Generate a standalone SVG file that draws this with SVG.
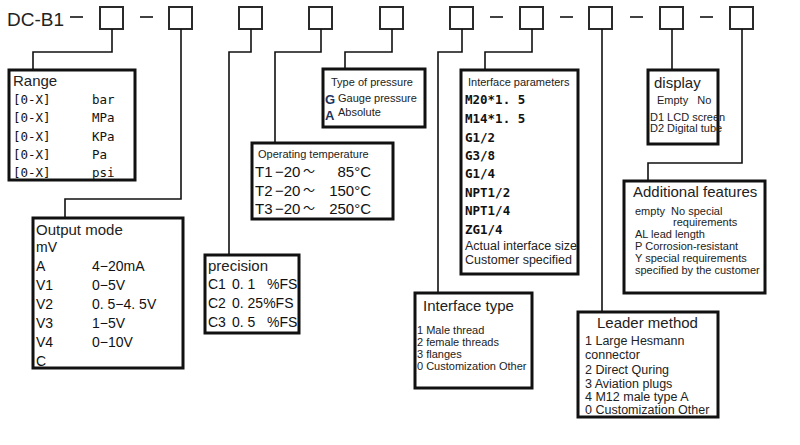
<svg xmlns="http://www.w3.org/2000/svg" width="800" height="445" viewBox="0 0 800 445">
<style>
text{white-space:pre}
.hb{fill:#fff;stroke:#2a2a2a;stroke-width:2}
.box{fill:#fff;stroke:#111;stroke-width:3}
.con{fill:none;stroke:#111;stroke-width:1.6}
.dash{stroke:#111;stroke-width:1.6}
.h{font-family:"Liberation Sans",Arial,sans-serif;font-size:15px;fill:#222}
.s{font-family:"Liberation Sans",Arial,sans-serif;font-size:11px;fill:#222}
.m{font-family:"Liberation Sans",Arial,sans-serif;font-size:12.5px;fill:#222}
.mono{font-family:"DejaVu Sans Mono","Liberation Mono",monospace;font-size:12.5px;fill:#111}
.b{font-family:"Liberation Sans",Arial,sans-serif;font-size:14px;fill:#111}
.t{font-family:"Liberation Sans",Arial,sans-serif;font-size:15px;fill:#111}
.w{font-family:"Noto Sans CJK SC",sans-serif;font-size:12px;fill:#111}
</style>
<rect width="800" height="445" fill="#fff"/>
<g id="header">
<text x="7" y="26" font-family="Liberation Sans,Arial,sans-serif" font-size="19" fill="#222">DC-B1</text>
<line class="dash" x1="70" y1="17" x2="83" y2="17"/>
<line class="dash" x1="140" y1="17" x2="153" y2="17"/>
<line class="dash" x1="490" y1="17" x2="503" y2="17"/>
<line class="dash" x1="560" y1="17" x2="573" y2="17"/>
<line class="dash" x1="630" y1="17" x2="643" y2="17"/>
<line class="dash" x1="700" y1="17" x2="713" y2="17"/>
<rect class="hb" x="100" y="7" width="23" height="22"/>
<rect class="hb" x="169" y="7" width="23" height="22"/>
<rect class="hb" x="239" y="7" width="23" height="22"/>
<rect class="hb" x="309" y="7" width="23" height="22"/>
<rect class="hb" x="380" y="7" width="23" height="22"/>
<rect class="hb" x="450" y="7" width="23" height="22"/>
<rect class="hb" x="520" y="7" width="23" height="22"/>
<rect class="hb" x="589" y="7" width="23" height="22"/>
<rect class="hb" x="660" y="7" width="23" height="22"/>
<rect class="hb" x="730" y="7" width="23" height="22"/>
</g>
<g id="connectors">
<path class="con" d="M112,29 V52 H33 V70"/>
<path class="con" d="M181,29 V199 H65 V218"/>
<path class="con" d="M251,29 V52 H229 V255"/>
<path class="con" d="M321,29 V52 H275 V143"/>
<path class="con" d="M392,29 V52 H345 V69"/>
<path class="con" d="M462,29 V52 H438 V293"/>
<path class="con" d="M532,29 V52 H485 V70"/>
<path class="con" d="M602,29 V312"/>
<path class="con" d="M672,29 V70"/>
<path class="con" d="M742,29 V163 H648 V181"/>
</g>
<g id="range">
<rect class="box" x="9" y="70" width="126" height="110"/>
<text class="h" x="13" y="86">Range</text>
<text class="mono" font-size="13" x="13" y="104">[0-X]</text><text class="mono" font-size="13" x="92" y="104">bar</text>
<text class="mono" font-size="13" x="13" y="122">[0-X]</text><text class="mono" font-size="13" x="92" y="122">MPa</text>
<text class="mono" font-size="13" x="13" y="141">[0-X]</text><text class="mono" font-size="13" x="92" y="141">KPa</text>
<text class="mono" font-size="13" x="13" y="159">[0-X]</text><text class="mono" font-size="13" x="92" y="159">Pa</text>
<text class="mono" font-size="13" x="13" y="177">[0-X]</text><text class="mono" font-size="13" x="92" y="177">psi</text>
</g>
<g id="output">
<rect class="box" x="33" y="218" width="150" height="150"/>
<text class="h" x="36" y="235">Output mode</text>
<text class="b" x="36" y="252" font-size="13">mV</text>
<text class="b" x="36" y="271">A</text><text class="b" x="92" y="271">4−20mA</text>
<text class="b" x="36" y="290">V1</text><text class="b" x="92" y="290">0−5V</text>
<text class="b" x="36" y="309">V2</text><text class="b" x="92" y="309">0. 5−4. 5V</text>
<text class="b" x="36" y="328">V3</text><text class="b" x="92" y="328">1−5V</text>
<text class="b" x="36" y="347">V4</text><text class="b" x="92" y="347">0−10V</text>
<text class="b" x="36" y="366">C</text>
</g>
<g id="precision">
<rect class="box" x="205" y="255" width="94" height="78"/>
<text class="h" x="208" y="271">precision</text>
<text class="b" x="208" y="289">C1</text><text class="b" x="232" y="289">0. 1   %FS</text>
<text class="b" x="208" y="308">C2</text><text class="b" x="232" y="308">0. 25%FS</text>
<text class="b" x="208" y="327">C3</text><text class="b" x="232" y="327">0. 5   %FS</text>
</g>
<g id="temperature">
<rect class="box" x="252" y="143" width="141" height="76"/>
<text class="s" x="258" y="158">Operating temperature</text>
<text class="t" x="255" y="177">T1</text><text class="t" x="275" y="177">−20</text><text class="w" x="303" y="176">～</text><text class="t" x="371" y="177" text-anchor="end">85°C</text>
<text class="t" x="255" y="196">T2</text><text class="t" x="275" y="196">−20</text><text class="w" x="303" y="195">～</text><text class="t" x="371" y="196" text-anchor="end">150°C</text>
<text class="t" x="255" y="214">T3</text><text class="t" x="275" y="214">−20</text><text class="w" x="303" y="213">～</text><text class="t" x="371" y="214" text-anchor="end">250°C</text>
</g>
<g id="pressure">
<rect class="box" x="323" y="69" width="102" height="58"/>
<text class="s" x="331" y="86">Type of pressure</text>
<text x="325" y="104" font-family="Liberation Sans,Arial,sans-serif" font-size="13" font-weight="bold" fill="#1b3560">G</text>
<text class="s" x="338" y="102">Gauge pressure</text>
<text x="325" y="120" font-family="Liberation Sans,Arial,sans-serif" font-size="13" font-weight="bold" fill="#1b3560">A</text>
<text class="s" x="338" y="116">Absolute</text>
</g>
<g id="interface-parameters">
<rect class="box" x="461" y="70" width="117" height="204"/>
<text class="s" x="468" y="86">Interface parameters</text>
<text class="mono" font-weight="bold" x="465" y="104">M20*1. 5</text>
<text class="mono" font-weight="bold" x="465" y="123">M14*1. 5</text>
<text class="mono" font-weight="bold" x="465" y="142">G1/2</text>
<text class="mono" font-weight="bold" x="465" y="160">G3/8</text>
<text class="mono" font-weight="bold" x="465" y="178">G1/4</text>
<text class="mono" font-weight="bold" x="465" y="197">NPT1/2</text>
<text class="mono" font-weight="bold" x="465" y="215">NPT1/4</text>
<text class="mono" font-weight="bold" x="465" y="234">ZG1/4</text>
<text class="m" font-size="12" x="465" y="250">Actual interface size</text>
<text class="m" font-size="12" x="465" y="264">Customer specified</text>
</g>
<g id="interface-type">
<rect class="box" x="415" y="293" width="117" height="95"/>
<text class="h" x="423" y="311">Interface type</text>
<text class="s" x="417" y="334">1 Male thread</text>
<text class="s" x="417" y="346">2 female threads</text>
<text class="s" x="417" y="358">3 flanges</text>
<text class="s" x="417" y="370">0 Customization Other</text>
</g>
<g id="leader">
<rect class="box" x="578" y="312" width="140" height="105"/>
<text class="h" x="597" y="328">Leader method</text>
<text class="m" x="585" y="345">1 Large Hesmann</text>
<text class="m" x="585" y="359">connector</text>
<text class="m" x="585" y="374">2 Direct Quring</text>
<text class="m" x="585" y="388">3 Aviation plugs</text>
<text class="m" x="585" y="401">4 M12 male type A</text>
<text class="m" x="585" y="414">0 Customization Other</text>
</g>
<g id="display">
<rect class="box" x="648" y="70" width="70" height="74"/>
<text class="h" x="654" y="88">display</text>
<text class="s" x="657" y="104">Empty   No</text>
<text class="s" x="650" y="121">D1 LCD screen</text>
<text class="s" x="650" y="132">D2 Digital tube</text>
</g>
<g id="additional">
<rect class="box" x="624" y="181" width="141" height="112"/>
<text class="h" x="633" y="197">Additional features</text>
<text class="s" x="635" y="215">empty  No special</text>
<text class="s" x="673" y="226">requirements</text>
<text class="s" x="635" y="238">AL lead length</text>
<text class="s" x="635" y="250">P Corrosion-resistant</text>
<text class="s" x="635" y="262">Y special requirements</text>
<text class="s" x="635" y="274">specified by the customer</text>
</g>
</svg>
